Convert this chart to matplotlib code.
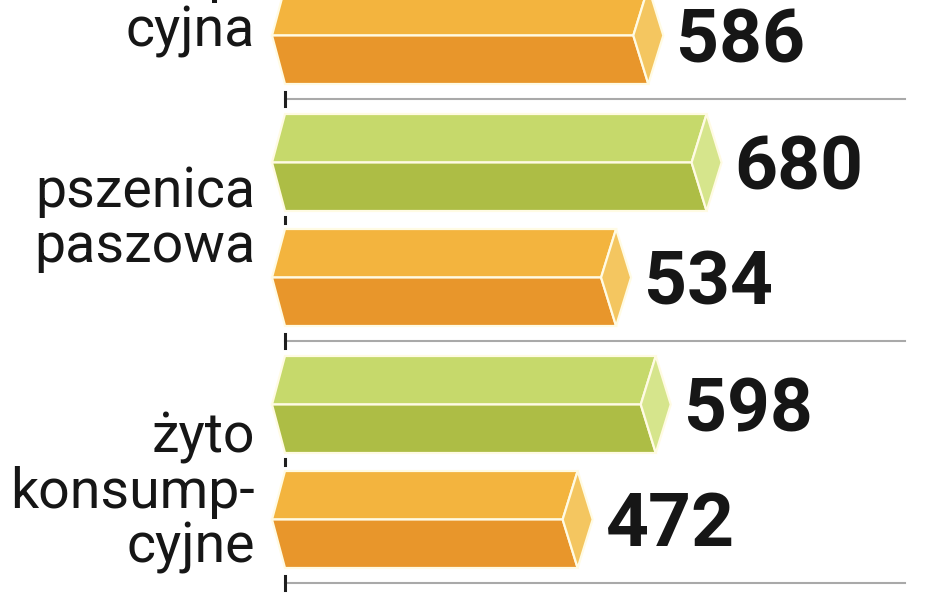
import matplotlib
matplotlib.use("Agg")
import matplotlib.pyplot as plt
from matplotlib.patches import Polygon


# data (top group is cut off in the source picture, its green bar is not visible)
labels = ["pszenica\nkonsump-\ncyjna", "pszenica\npaszowa", "żyto\nkonsump-\ncyjne"]
green_vals = [None, 680, 598]
orange_vals = [586, 534, 472]

# layout, in pixels of the 948x593 picture
W, H = 948, 593
X0, PXU = 285, 0.62          # x pixel of value 0, pixels per unit
SEP0, PITCH = 99, 242        # separator line of each group
label_base = [47, 262, 563]  # baseline of last label line

GREEN = ("#c6d96b", "#adbd45", "#d6e58c")
ORANGE = ("#f3b43e", "#e8962b", "#f4c660")
EDGE = "#fffbe4"


def u(px):
    return px / PXU


def prism(ax, v, top, bot, colors):
    c_top, c_bot, c_cap = colors
    mid = (top + bot) / 2
    e, p = u(15), u(13)
    kw = dict(ec=EDGE, lw=1.6, joinstyle="miter", zorder=3)
    ax.add_patch(Polygon([(0, top), (v, top), (v - e, mid), (-p, mid)], fc=c_top, **kw))
    ax.add_patch(Polygon([(-p, mid), (v - e, mid), (v, bot), (0, bot)], fc=c_bot, **kw))
    ax.add_patch(Polygon([(v, top), (v + e, mid), (v, bot), (v - e, mid)], fc=c_cap, **kw))
    ax.text(v + e + u(13), mid + 27, str(v), ha="left", va="baseline",
            fontsize=54, fontweight="bold", family="Roboto", color="#161616")


fig = plt.figure(figsize=(W / 100, H / 100), dpi=100)
ax = fig.add_axes([0, 0, 1, 1])
ax.set_xlim(u(-X0), u(W - X0))
ax.set_ylim(H, 0)
ax.axis("off")

for i, (lab, g, o) in enumerate(zip(labels, green_vals, orange_vals)):
    s = SEP0 + PITCH * i
    if g is not None:
        prism(ax, g, s - 227, s - 130, GREEN)
    prism(ax, o, s - 112, s - 15, ORANGE)
    # separator and axis ticks
    ax.plot([0, 1000], [s, s], color="#a9a9a9", lw=1.5, zorder=1)
    ax.plot([0, 0], [s - 7, s + 7], color="#1e1e1e", lw=2.2, zorder=2)
    ax.plot([0, 0], [s - 124, s - 118], color="#1e1e1e", lw=2.2, zorder=2)
    ax.text(u(255 - X0), label_base[i], lab, ha="right", va="baseline",
            fontsize=40, family="Roboto", color="#161616", linespacing=1.05,
            multialignment="right")

fig.savefig("out.png", dpi=100, facecolor="white")
